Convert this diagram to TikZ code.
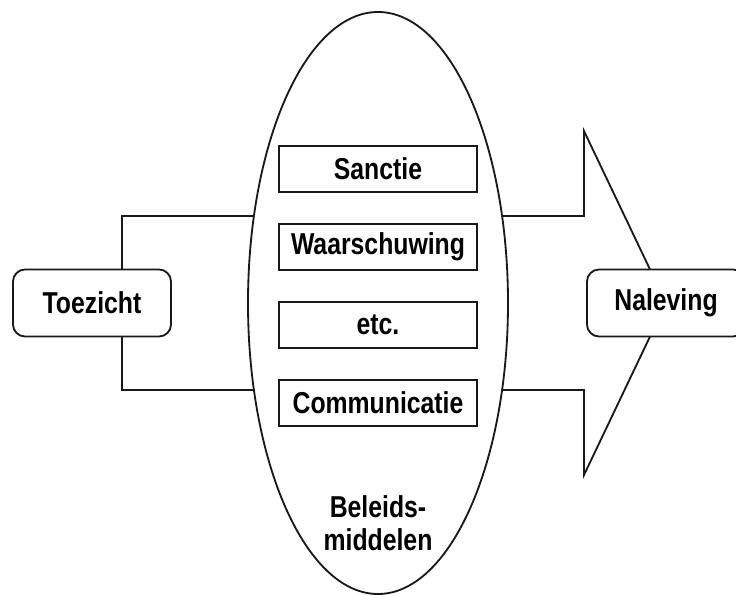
\documentclass[tikz,border=0pt]{standalone}
\usepackage{fontspec}
\setmainfont[FakeStretch=0.82]{Liberation Sans}
\usetikzlibrary{positioning, shapes.geometric, backgrounds}
\definecolor{linegray}{RGB}{25,25,25}

\begin{document}
\begin{tikzpicture}[
    outline/.style={draw=linegray, line width=1.3pt},
    endbox/.style={outline, fill=white, rounded corners=0.3cm, minimum width=3.95cm,
        minimum height=1.675cm, font=\fontsize{21.5}{24}\selectfont\bfseries},
    toolbox/.style={outline, line width=1.4pt, fill=white, minimum width=4.95cm,
        minimum height=1.15cm, font=\fontsize{21.5}{24}\selectfont\bfseries},
]

% === Kader ===
\useasboundingbox (-9.45,-7.3) rectangle (8.95,7.575);
\clip (-9.45,-7.3) rectangle (8.95,7.575);

% === Ellips met beleidsmiddelen ===
\node[outline, ellipse, fill=white, inner sep=0pt, outer sep=0pt,
    minimum width=6.5cm, minimum height=14.55cm] (mid) at (0,0) {};

\node[toolbox] (sanctie) at (0,3.35) {Sanctie};
\node[toolbox, below=0.75cm of sanctie] (waarsch) {Waarschuwing};
\node[toolbox, below=0.75cm of waarsch] (etc) {etc.};
\node[toolbox, below=0.75cm of etc] (comm) {Communicatie};

\node[font=\fontsize{21.5}{23.5}\selectfont\bfseries, align=center] (middelen) at (0,-5.5)
    {Beleids-\\middelen};

% === Begin en eind ===
\node[endbox] (toezicht) at (-7.15,0) {Toezicht};
\node[endbox] (naleving) at (7.2,0) {Naleving};

% === Verbindingen (achter de vormen) ===
\begin{scope}[on background layer]
    % haak links
    \draw[outline] ([xshift=0.75cm]toezicht.north) |- ([yshift=2.175cm]mid.center);
    \draw[outline] ([xshift=0.75cm]toezicht.south) |- ([yshift=-2.175cm]mid.center);

    % pijl rechts
    \draw[outline, line join=miter] ([yshift=2.175cm]mid.center) -- (5.15,2.175) -- (5.15,4.3)
        -- (naleving.center) -- (5.15,-4.3) -- (5.15,-2.175) -- ([yshift=-2.175cm]mid.center);
\end{scope}

\end{tikzpicture}
\end{document}
